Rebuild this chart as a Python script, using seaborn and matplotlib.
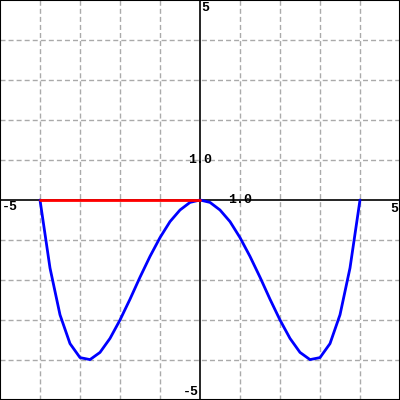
import numpy as np
import pandas as pd
import seaborn as sns
import matplotlib.pyplot as plt

# curve points
x_vals = [-4.0, -3.75, -3.5, -3.25, -3.0, -2.75, -2.5, -2.25, -2.0, -1.75, -1.5,
          -1.25, -1.0, -0.75, -0.5, -0.25, 0.0, 0.25, 0.5, 0.75, 1.0, 1.25,
          1.5, 1.75, 2.0, 2.25, 2.5, 2.75, 3.0, 3.25, 3.5, 3.75, 4.0]
y_vals = [0.0, -1.70, -2.87, -3.59, -3.94, -3.99, -3.81, -3.46, -3.0, -2.48, -1.93,
          -1.41, -0.94, -0.54, -0.25, -0.06, 0.0, -0.06, -0.25, -0.54, -0.94, -1.41,
          -1.93, -2.48, -3.0, -3.46, -3.81, -3.99, -3.94, -3.59, -2.87, -1.70, 0.0]

# red segment on the x axis
seg_x = [-4.0, 0.0]
seg_y = [0.0, 0.0]

x_range = [-5, 5]
y_range = [-5, 5]
tick_step = 1

sns.set_style("white")
plt.rcParams["font.family"] = ["Liberation Mono", "DejaVu Sans Mono"]
plt.rcParams["lines.scale_dashes"] = False

curve = pd.DataFrame({"x": x_vals, "y": y_vals})
seg = pd.DataFrame({"x": seg_x, "y": seg_y})

fig = plt.figure(figsize=(4, 4), dpi=100)
ax = fig.add_axes([0, 0, 1, 1])

# dashed grid, skipping the axes
for v in np.arange(x_range[0] + tick_step, x_range[1], tick_step):
    if v != 0:
        ax.axvline(v, color="#aaaaaa", lw=1, dashes=(3.6, 2.2), zorder=0)
for v in np.arange(y_range[0] + tick_step, y_range[1], tick_step):
    if v != 0:
        ax.axhline(v, color="#aaaaaa", lw=1, dashes=(3.6, 2.2), zorder=0)

ax.axhline(0, color="black", lw=1.2, zorder=1)
ax.axvline(0, color="black", lw=1.2, zorder=1)

sns.lineplot(data=curve, x="x", y="y", color="blue", lw=2, sort=False, ax=ax, zorder=3)
sns.lineplot(data=seg, x="x", y="y", color="red", lw=2, ax=ax, zorder=4)

ax.set_xlim(x_range)
ax.set_ylim(y_range)
ax.set_xticks([])
ax.set_yticks([])
ax.set_xlabel("")
ax.set_ylabel("")
for s in ax.spines.values():
    s.set_visible(True)
    s.set_color("black")
    s.set_linewidth(1.5)

lbl = dict(fontsize=9.5, fontweight="bold", color="black", zorder=5)
ax.text(x_range[0] + 0.05, -0.03, "-5", ha="left", va="top", **lbl)
ax.text(x_range[1] - 0.05, -0.08, "5", ha="right", va="top", **lbl)
ax.text(0.03, y_range[1] - 0.05, "5", ha="left", va="top", **lbl)
ax.text(-0.03, y_range[0] + 0.05, "-5", ha="right", va="bottom", **lbl)
ax.text(0, 1, "1.0", ha="center", va="center", **lbl)
ax.text(1, 0, "1.0", ha="center", va="center", **lbl)

fig.savefig("out.png", dpi=100)
